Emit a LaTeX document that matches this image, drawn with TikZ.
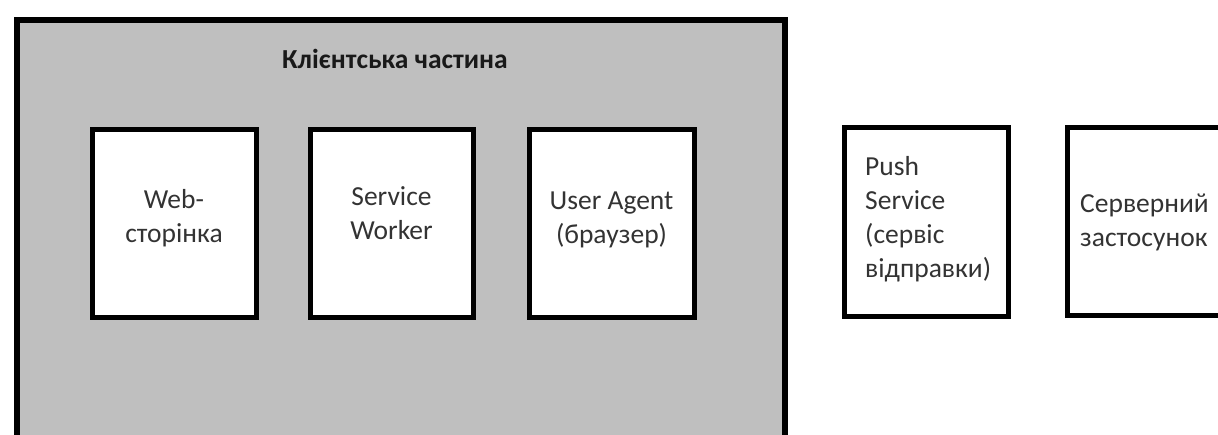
\documentclass[tikz,border=0pt]{standalone}
\usepackage{fontspec}
\setmainfont{Carlito}
\begin{document}
\begin{tikzpicture}[x=1pt,y=-1pt,
  panel/.style={draw=black, line width=5.5pt, fill=black!25},
  box/.style={draw=black, line width=5pt, fill=white, inner sep=0pt},
  label/.style={inner sep=0pt, text=black!80, font=\fontsize{27.5}{34}\selectfont},
  title/.style={inner sep=0pt, text=black!90, font=\fontsize{27.5}{32}\selectfont\bfseries}]
\useasboundingbox (0,0) rectangle (1218,434);
\clip (0,0) rectangle (1218,434);
\fill[white] (0,0) rectangle (1218,434);

% client side panel (runs off the bottom edge)
\node[panel, minimum width=768pt, minimum height=440pt, anchor=north west] (client) at (14,17) {};
\node[title, anchor=base west] (clienttitle) at (282,68) {Клієнтська частина};

% components inside the client side
\node[box, minimum width=164pt, minimum height=188pt] (web) at (174,223) {};
\node[box, minimum width=163pt, minimum height=188pt] (sw) at (391.5,223) {};
\node[box, minimum width=165pt, minimum height=188pt] (ua) at (611.5,223) {};

% external parts
\node[box, minimum width=164pt, minimum height=189pt] (push) at (926,221.5) {};
\node[box, minimum width=240pt, minimum height=188pt, anchor=north west] (server) at (1065,125) {};

% labels
\node[label, align=center, anchor=north] (webtext) at (web.center |- 0,189) {Web-\\сторінка};
\node[label, align=center, anchor=north] (swtext) at (sw.center |- 0,186) {Service\\Worker};
\node[label, align=center, anchor=north] (uatext) at (ua.center |- 0,192) {User Agent\\(браузер)};
\node[label, align=left, anchor=north west] (pushtext) at (865,156) {Push\\Service\\(сервіс\\відправки)};
\node[label, align=left, anchor=north west] (servertext) at (1080,194) {Серверний\\застосунок};
\end{tikzpicture}
\end{document}
